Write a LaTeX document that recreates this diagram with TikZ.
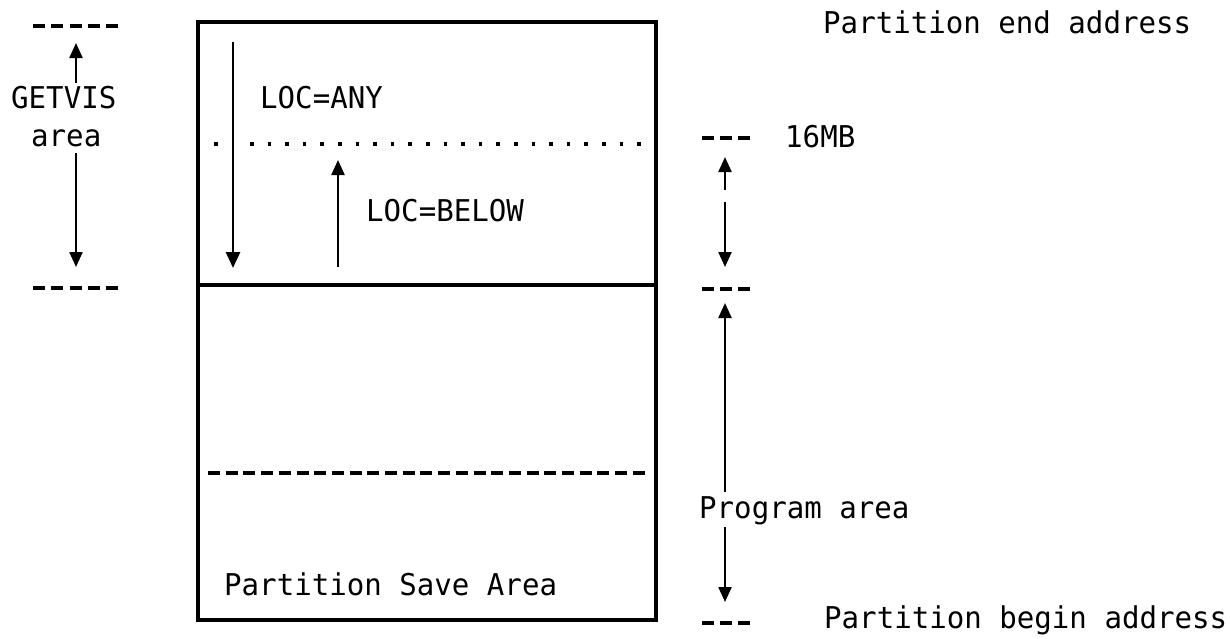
\documentclass[tikz,border=0pt]{standalone}
\usepackage{fontspec}
\newfontfamily\monofnt[FakeStretch=0.97]{DejaVu Sans Mono}
\usetikzlibrary{arrows.meta}
\begin{document}
\begin{tikzpicture}[x=1pt,y=-1pt,
  lbl/.style={anchor=base west,inner sep=0pt,font=\monofnt\fontsize{30}{32}\selectfont},
  frame/.style={line width=3.2pt},
  arr/.style={line width=2.3pt,-{Triangle[width=13pt,length=15pt]}},
  bigarr/.style={line width=2.8pt,-{Triangle[width=14pt,length=16pt]}},
  dashfive/.style={line width=3.4pt,dash pattern=on 12pt off 6.25pt},
  dashthree/.style={line width=3.4pt,dash pattern=on 12pt off 6pt},
  dashlong/.style={line width=3.4pt,dash pattern=on 12pt off 5.7pt},
  dotrow/.style={line width=3.6pt,dash pattern=on 3.6pt off 14pt}]
\useasboundingbox[fill=white] (0,0) rectangle (1230,638);

% main box
\draw[frame] (198,22) rectangle (656,620);
\draw[frame] (198,285) -- (656,285);

% dotted 16MB line inside box
\fill (214.2,142.2) rectangle (217.8,145.8);
\draw[dotrow] (250,144) -- (642,144);

% dashed line inside box
\draw[dashlong] (208,473) -- (645,473);

% left dashes
\draw[dashfive] (33,26) -- (118,26);
\draw[dashfive] (33,288) -- (118,288);

% right dashes
\draw[dashthree] (702,138) -- (750,138);
\draw[dashthree] (702,289) -- (750,289);
\draw[dashthree] (702,623) -- (750,623);

% labels
\node[lbl] (pend) at (823,33) {Partition end address};
\node[lbl] (getvis) at (11,108) {GETVIS};
\node[lbl] (area) at (31,146) {area};
\node[lbl] (locany) at (260,108) {LOC=ANY};
\node[lbl] (locbelow) at (366,221) {LOC=BELOW};
\node[lbl] (mb) at (785,147) {16MB};
\node[lbl] (prog) at (699,518) {Program area};
\node[lbl] (psa) at (224,595) {Partition Save Area};
\node[lbl] (pbegin) at (824,628) {Partition begin address};

% arrow coordinates
\coordinate (g1s) at (76,83);   \coordinate (g1e) at (76,43);
\coordinate (g2s) at (76,153);  \coordinate (g2e) at (76,267);
\coordinate (as)  at (233,42);  \coordinate (ae)  at (233,268);
\coordinate (bs)  at (338,267); \coordinate (be)  at (338,160);
\coordinate (m1s) at (725,190); \coordinate (m1e) at (725,157);
\coordinate (m2s) at (725,202); \coordinate (m2e) at (725,267);
\coordinate (p1s) at (725,492); \coordinate (p1e) at (725,303);
\coordinate (p2s) at (725,527); \coordinate (p2e) at (725,602);

\draw[arr] (g1s) -- (g1e);
\draw[arr] (g2s) -- (g2e);
\draw[bigarr] (as) -- (ae);
\draw[arr] (bs) -- (be);
\draw[arr] (m1s) -- (m1e);
\draw[arr] (m2s) -- (m2e);
\draw[arr] (p1s) -- (p1e);
\draw[arr] (p2s) -- (p2e);
\end{tikzpicture}
\end{document}
